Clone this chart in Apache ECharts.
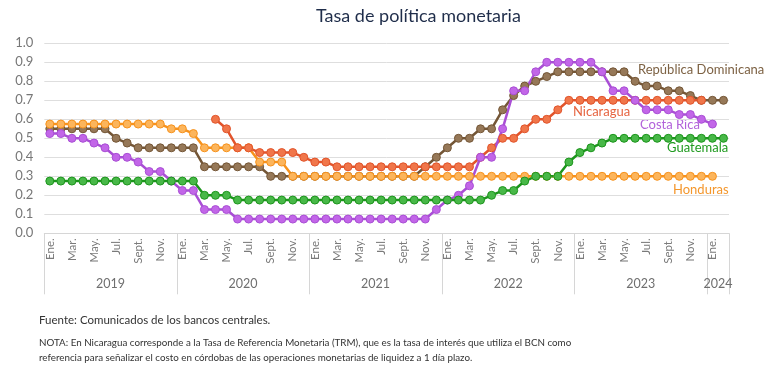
<!DOCTYPE html>
<html><head><meta charset="utf-8">
<script src="https://cdn.jsdelivr.net/npm/echarts@6/dist/echarts.min.js"></script>
<style>html,body{margin:0;padding:0;background:#fff}#c{width:768px;height:366px}</style>
</head><body><div id="c"></div>
<script>
// ---- categories ----
const monthNames = ['Ene.','Feb.','Mar.','Abr.','May.','Jun.','Jul.','Ago.','Sept.','Oct.','Nov.','Dic.'];
const yearList = [2019, 2020, 2021, 2022, 2023];
const extraMonths = ['Ene.', 'Feb.']; // 2024
const yearLabels = ['2019', '2020', '2021', '2022', '2023', '2024'];
const yearLabelPos = [6, 18, 30, 42, 54, 61];
const yTicks = [0.0, 0.1, 0.2, 0.3, 0.4, 0.5, 0.6, 0.7, 0.8, 0.9, 1.0];

// ---- series values (Ene. 2019 ... Feb. 2024) ----
const repDominicana = [
  0.55,0.55,0.55,0.55,0.55,0.55,0.5,0.475,0.45,0.45,0.45,0.45,
  0.45,0.45,0.35,0.35,0.35,0.35,0.35,0.35,0.3,0.3,0.3,0.3,
  0.3,0.3,0.3,0.3,0.3,0.3,0.3,0.3,0.3,0.3,0.35,0.40,
  0.45,0.5,0.5,0.55,0.55,0.65,0.725,0.775,0.8,0.825,0.85,0.85,
  0.85,0.85,0.85,0.85,0.85,0.8,0.775,0.775,0.75,0.75,0.725,0.7,
  0.7,0.7
];
const honduras = [
  0.575,0.575,0.575,0.575,0.575,0.575,0.575,0.575,0.575,0.575,0.575,0.55,
  0.55,0.525,0.45,0.45,0.45,0.45,0.45,0.375,0.375,0.375,0.3,0.3,
  0.3,0.3,0.3,0.3,0.3,0.3,0.3,0.3,0.3,0.3,0.3,0.3,
  0.3,0.3,0.3,0.3,0.3,0.3,0.3,0.3,0.3,0.3,0.3,0.3,
  0.3,0.3,0.3,0.3,0.3,0.3,0.3,0.3,0.3,0.3,0.3,0.3,
  0.3,null
];
const nicaragua = [
  null,null,null,null,null,null,null,null,null,null,null,null,
  null,null,null,0.6,0.55,0.45,0.45,0.425,0.425,0.425,0.425,0.4,
  0.375,0.375,0.35,0.35,0.35,0.35,0.35,0.35,0.35,0.35,0.35,0.35,
  0.35,0.35,0.35,0.4,0.45,0.5,0.5,0.55,0.6,0.6,0.65,0.7,
  0.7,0.7,0.7,0.7,0.7,0.7,0.7,0.7,0.7,0.7,0.7,0.7,
  null,null
];
const costaRica = [
  0.525,0.525,0.5,0.5,0.475,0.45,0.4,0.4,0.375,0.325,0.325,0.275,
  0.225,0.225,0.125,0.125,0.125,0.075,0.075,0.075,0.075,0.075,0.075,0.075,
  0.075,0.075,0.075,0.075,0.075,0.075,0.075,0.075,0.075,0.075,0.075,0.125,
  0.175,0.2,0.25,0.4,0.4,0.55,0.75,0.75,0.85,0.9,0.9,0.9,
  0.9,0.9,0.85,0.75,0.75,0.7,0.65,0.65,0.65,0.625,0.625,0.6,
  0.575,null
];
const guatemala = [
  0.275,0.275,0.275,0.275,0.275,0.275,0.275,0.275,0.275,0.275,0.275,0.275,
  0.275,0.275,0.2,0.2,0.2,0.175,0.175,0.175,0.175,0.175,0.175,0.175,
  0.175,0.175,0.175,0.175,0.175,0.175,0.175,0.175,0.175,0.175,0.175,0.175,
  0.175,0.175,0.175,0.175,0.2,0.225,0.225,0.275,0.3,0.3,0.3,0.375,
  0.425,0.45,0.475,0.5,0.5,0.5,0.5,0.5,0.5,0.5,0.5,0.5,
  0.5,0.5
];

const categories = [];
yearList.forEach(() => monthNames.forEach(m => categories.push(m)));
extraMonths.forEach(m => categories.push(m));

const FONT = 'Lato';
function mkSeries(name, data, line, fill) {
  return {
    name, type: 'line', data, xAxisIndex: 0, yAxisIndex: 0,
    symbol: 'circle', symbolSize: 8, showSymbol: true, showAllSymbol: true, connectNulls: false,
    lineStyle: { color: line, width: 2.5 },
    itemStyle: { color: fill, borderColor: line, borderWidth: 1 },
    emphasis: { disabled: true }
  };
}

const chart = echarts.init(document.getElementById('c'), null, { renderer: 'canvas' });
chart.setOption({
  animation: false,
  backgroundColor: '#ffffff',
  textStyle: { fontFamily: FONT },
  title: [
    { text: 'Tasa de política monetaria', left: 311, top: 2,
      textStyle: { fontFamily: FONT, fontSize: 18, fontWeight: 'normal', color: '#1f2d4a' } },
    { text: 'Fuente: Comunicados de los bancos centrales.', left: 34, top: 309,
      textStyle: { fontFamily: FONT, fontSize: 11.5, fontWeight: 'normal', color: '#333333' } },
    { text: 'NOTA: En Nicaragua corresponde a la Tasa de Referencia Monetaria (TRM), que es la tasa de interés que utiliza el BCN como\nreferencia para señalizar el costo en córdobas de las operaciones monetarias de liquidez a 1 día plazo.',
      left: 34, top: 330,
      textStyle: { fontFamily: FONT, fontSize: 9.8, fontWeight: 'normal', color: '#333333', lineHeight: 15 } }
  ],
  grid: { left: 44.3, right: 39, top: 43.3, bottom: 132.7 },
  xAxis: [
    { type: 'category', data: categories, boundaryGap: true, position: 'bottom',
      axisLine: { show: true, lineStyle: { color: '#d6d6d6', width: 1 } },
      axisTick: { show: false },
      axisLabel: { interval: 1, rotate: 90, fontSize: 11.5, color: '#7a7a7a', margin: 5, fontFamily: FONT },
      splitLine: { show: false } },
    { type: 'value', min: 0, max: 62, interval: 12, position: 'bottom', offset: 0,
      axisLine: { show: false },
      axisTick: { show: true, length: 61, lineStyle: { color: '#d6d6d6', width: 1 } },
      axisLabel: { show: false }, splitLine: { show: false } },
    { type: 'value', min: 0, max: 62, interval: 1, position: 'bottom', offset: 37,
      axisLine: { show: false }, axisTick: { show: false }, splitLine: { show: false },
      axisLabel: { show: true, fontSize: 12.5, color: '#6f6f6f', margin: 7, fontFamily: FONT,
        formatter: v => { const i = yearLabelPos.indexOf(Math.round(v)); return i >= 0 ? yearLabels[i] : ''; } } }
  ],
  yAxis: {
    type: 'value', min: yTicks[0], max: yTicks[yTicks.length - 1], interval: 0.1,
    axisLine: { show: false }, axisTick: { show: false },
    axisLabel: { fontSize: 13, color: '#777777', margin: 11, fontFamily: FONT, formatter: v => v.toFixed(1) },
    splitLine: { show: true, lineStyle: { color: '#dedede', width: 1 } }
  },
  series: [
    mkSeries('República Dominicana', repDominicana, '#745636', '#967858'),
    mkSeries('Honduras', honduras, '#f7921c', '#fcb55c'),
    mkSeries('Nicaragua', nicaragua, '#e2542b', '#f0764a'),
    mkSeries('Costa Rica', costaRica, '#a94ed5', '#c266e8'),
    mkSeries('Guatemala', guatemala, '#1c951c', '#48b848')
  ],
  graphic: [
    { type: 'text', left: 638, top: 63, style: { text: 'República Dominicana', fill: '#7d6244', font: '13px ' + FONT } },
    { type: 'text', left: 573, top: 105, style: { text: 'Nicaragua', fill: '#e66440', font: '13px ' + FONT } },
    { type: 'text', left: 640, top: 118, style: { text: 'Costa Rica', fill: '#b262da', font: '13px ' + FONT } },
    { type: 'text', left: 667, top: 141, style: { text: 'Guatemala', fill: '#1f9a1f', font: '13px ' + FONT } },
    { type: 'text', left: 673, top: 183, style: { text: 'Honduras', fill: '#f4972d', font: '13px ' + FONT } }
  ]
});
</script>
</body></html>
